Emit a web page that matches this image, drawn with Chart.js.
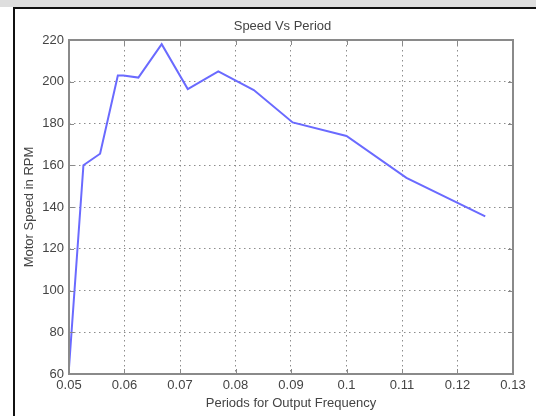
<!DOCTYPE html>
<html>
<head>
<meta charset="utf-8">
<script src="https://cdn.jsdelivr.net/npm/chart.js@4/dist/chart.umd.min.js"></script>
<style>
  html, body { margin: 0; padding: 0; background: #fff; }
  #wrap { position: relative; width: 536px; height: 416px; overflow: hidden; }
  #chart { position: absolute; left: 0; top: 0; }
  #strip { position: absolute; left: 0; top: 0; width: 536px; height: 7px; background: #dedede; }
  #frameTop { position: absolute; left: 13px; top: 7px; width: 523px; height: 2px; background: #111; }
  #frameLeft { position: absolute; left: 13px; top: 7px; width: 2px; height: 409px; background: #111; }
</style>
</head>
<body>
<div id="wrap">
  <canvas id="chart" width="536" height="416"></canvas>
  <div id="strip"></div>
  <div id="frameTop"></div>
  <div id="frameLeft"></div>
</div>
<script>
// periods (s) and measured motor speed (RPM)
const periods = [0.05, 0.0526, 0.0556, 0.0588, 0.0598, 0.0625, 0.0667, 0.0714, 0.0769, 0.0833, 0.0903, 0.1, 0.1108, 0.125];
const speeds = [63, 160, 165.5, 203, 203, 202, 218, 196.5, 205, 196, 180.5, 174, 154, 135.5];

const xTicks = [0.05, 0.06, 0.07, 0.08, 0.09, 0.1, 0.11, 0.12, 0.13];
const yTicks = [60, 80, 100, 120, 140, 160, 180, 200, 220];
const chartTitle = 'Speed Vs Period';

const textColor = '#444';
const gridColor = '#8c8c8c';
const boxColor = '#8a8a8a';
const fontFamily = 'Liberation Sans, Arial, sans-serif';

const dataPoints = periods.map((p, i) => ({ x: p, y: speeds[i] }));

// matlab style box + inward ticks, title sits a bit left of the plot centre
const axesBox = {
    id: 'axesBox',
    afterDraw(chart) {
        const { ctx, chartArea: a, scales } = chart;
        ctx.save();
        ctx.strokeStyle = boxColor;
        ctx.lineWidth = 1;
        ctx.beginPath();
        xTicks.forEach(v => {
            const px = Math.round(scales.x.getPixelForValue(v)) + 0.5;
            ctx.moveTo(px, a.bottom); ctx.lineTo(px, a.bottom - 5);
            ctx.moveTo(px, a.top); ctx.lineTo(px, a.top + 5);
        });
        yTicks.forEach(v => {
            const py = Math.round(scales.y.getPixelForValue(v)) + 0.5;
            ctx.moveTo(a.left, py); ctx.lineTo(a.left + 5, py);
            ctx.moveTo(a.right, py); ctx.lineTo(a.right - 5, py);
        });
        ctx.stroke();
        ctx.lineWidth = 2;
        ctx.strokeRect(a.left, a.top, a.right - a.left, a.bottom - a.top);

        ctx.fillStyle = textColor;
        ctx.font = '13px ' + fontFamily;
        ctx.textAlign = 'center';
        ctx.textBaseline = 'middle';
        ctx.fillText(chartTitle, (a.left + a.right) / 2 - 8.5, a.top - 14);
        ctx.restore();
    }
};

const whiteBg = {
    id: 'whiteBg',
    beforeDraw(chart) {
        const ctx = chart.ctx;
        ctx.save();
        ctx.fillStyle = '#fff';
        ctx.fillRect(0, 0, chart.width, chart.height);
        ctx.restore();
    }
};

const ctx = document.getElementById('chart').getContext('2d');
const chart = new Chart(ctx, {
    type: 'line',
    data: {
        datasets: [{
            label: 'Speed',
            data: dataPoints,
            borderColor: '#6a6aff',
            borderWidth: 2,
            pointRadius: 0,
            tension: 0,
            fill: false
        }]
    },
    options: {
        responsive: false,
        animation: false,
        devicePixelRatio: 1,
        layout: { padding: { left: 0, right: 23, top: 40, bottom: 0 } },
        plugins: {
            legend: { display: false },
            tooltip: { enabled: false },
            title: { display: false }
        },
        scales: {
            x: {
                type: 'linear',
                min: 0.05,
                max: 0.13,
                afterBuildTicks: s => { s.ticks = xTicks.map(v => ({ value: v })); },
                afterFit: s => { s.height = 42; },
                ticks: {
                    color: textColor,
                    padding: 4,
                    maxRotation: 0,
                    autoSkip: false,
                    font: { family: fontFamily, size: 13 },
                    callback: v => String(Number(v.toFixed(2)))
                },
                grid: { color: gridColor, lineWidth: 1, drawTicks: false },
                border: { display: false, dash: [1.5, 3.5] },
                title: {
                    display: true,
                    text: 'Periods for Output Frequency',
                    color: textColor,
                    font: { family: fontFamily, size: 13 },
                    padding: { top: 0, bottom: 5 }
                }
            },
            y: {
                type: 'linear',
                min: 60,
                max: 220,
                afterBuildTicks: s => { s.ticks = yTicks.map(v => ({ value: v })); },
                afterFit: s => { s.width = 69; },
                ticks: {
                    color: textColor,
                    padding: 5,
                    autoSkip: false,
                    font: { family: fontFamily, size: 13 }
                },
                grid: { color: gridColor, lineWidth: 1, drawTicks: false },
                border: { display: false, dash: [1.5, 3.5] },
                title: {
                    display: true,
                    text: 'Motor Speed in RPM',
                    color: textColor,
                    font: { family: fontFamily, size: 13 },
                    padding: { top: 22, bottom: 0 }
                }
            }
        }
    },
    plugins: [whiteBg, axesBox]
});
</script>
</body>
</html>
